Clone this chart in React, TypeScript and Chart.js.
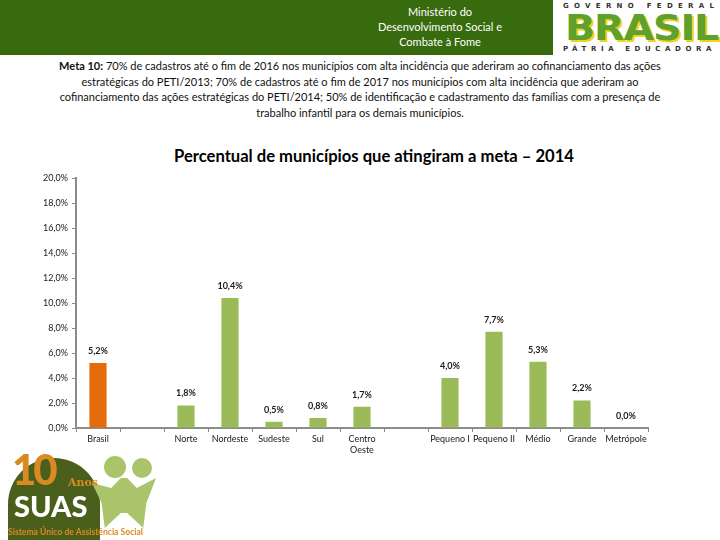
import React, { useEffect, useRef } from "react";
import { Chart, registerables } from "chart.js";
Chart.register(...registerables);

const categories: (string | string[])[] = [
  "Brasil", "", "Norte", "Nordeste", "Sudeste", "Sul", ["Centro", "Oeste"], "",
  "Pequeno I", "Pequeno II", "Médio", "Grande", "Metrópole",
];
const values: (number | null)[] = [5.2, null, 1.8, 10.4, 0.5, 0.8, 1.7, null, 4.0, 7.7, 5.3, 2.2, 0.0];
const highlightIndex = 0;
const yTickValues = [0, 2, 4, 6, 8, 10, 12, 14, 16, 18, 20];
const chartTitle = "Percentual de municípios que atingiram a meta – 2014";
const metaLines = [
  "70% de cadastros até o fim de 2016 nos municípios com alta incidência que aderiram ao cofinanciamento das ações",
  "estratégicas do PETI/2013; 70% de cadastros até o fim de 2017 nos municípios com alta incidência que aderiram ao",
  "cofinanciamento das ações estratégicas do PETI/2014; 50% de identificação e cadastramento das famílias com a presença de",
  "trabalho infantil para os demais municípios.",
];
const ministryLines = ["Ministério do", "Desenvolvimento Social e", "Combate à Fome"];

const ORANGE = "#E46C0A";
const GREEN = "#9BBB59";
const AXIS = "#8c8c8c";
const FONT = "Lato, 'Open Sans', sans-serif";

const fmt = (v: number) => v.toFixed(1).replace(".", ",") + "%";

const valueLabels = {
  id: "valueLabels",
  afterDatasetsDraw(chart: any) {
    const ctx = chart.ctx;
    const meta = chart.getDatasetMeta(0);
    ctx.save();
    ctx.font = `bold 9px ${FONT}`;
    ctx.fillStyle = "#1a1a1a";
    ctx.textAlign = "center";
    ctx.textBaseline = "middle";
    meta.data.forEach((el: any, i: number) => {
      const v = values[i];
      if (v === null || v === undefined) return;
      ctx.fillText(fmt(v), el.x, el.y - 12);
    });
    ctx.restore();
  },
};

function ChartCanvas() {
  const ref = useRef<HTMLCanvasElement>(null);
  useEffect(() => {
    if (!ref.current) return;
    const chart = new Chart(ref.current, {
      type: "bar",
      data: {
        labels: categories as any,
        datasets: [
          {
            data: values as any,
            backgroundColor: values.map((_, i) => (i === highlightIndex ? ORANGE : GREEN)),
            categoryPercentage: 1,
            barPercentage: 0.39,
          },
        ],
      },
      options: {
        animation: false,
        responsive: false,
        maintainAspectRatio: false,
        layout: { padding: { top: 178, right: 72, left: 0, bottom: 0 } },
        plugins: { legend: { display: false }, tooltip: { enabled: false }, title: { display: false } },
        scales: {
          x: {
            grid: { offset: true, drawOnChartArea: false, drawTicks: true, tickLength: 4, color: AXIS, lineWidth: 1 },
            border: { color: AXIS, width: 2 },
            ticks: { color: "#1a1a1a", font: { family: FONT, size: 9 }, padding: 2, maxRotation: 0, autoSkip: false },
            afterFit: (s: any) => { s.height = 112; },
          },
          y: {
            min: 0,
            max: 20,
            afterBuildTicks: (s: any) => { s.ticks = yTickValues.map((v) => ({ value: v })); },
            grid: { drawOnChartArea: false, drawTicks: true, tickLength: 4, color: AXIS },
            border: { color: AXIS, width: 2 },
            ticks: { color: "#1a1a1a", font: { family: FONT, size: 9 }, padding: 4, callback: (v: any) => fmt(Number(v)) },
            afterFit: (s: any) => { s.width = 76; },
          },
        },
      },
      plugins: [valueLabels],
    });
    return () => chart.destroy();
  }, []);
  return <canvas ref={ref} width={720} height={540} style={{ position: "absolute", left: 0, top: 0, width: 720, height: 540 }} />;
}

function SuasLogo() {
  return (
    <div style={{ position: "absolute", left: 4, top: 448, width: 150, height: 92, fontFamily: FONT }}>
      <div style={{ position: "absolute", left: 4, top: 10, width: 92, height: 92, borderRadius: "46px 46px 0 0", background: "#4b5f1c" }} />
      <div style={{ position: "absolute", left: 100, top: 8, width: 22, height: 22, borderRadius: 11, background: "#a9c46a" }} />
      <div style={{ position: "absolute", left: 128, top: 10, width: 20, height: 20, borderRadius: 10, background: "#a9c46a" }} />
      <div style={{ position: "absolute", left: 88, top: 30, width: 64, height: 50, background: "#a9c46a", clipPath: "polygon(0 10%,30% 20%,45% 0,55% 0,70% 20%,100% 0,85% 50%,80% 100%,55% 70%,45% 70%,20% 100%,15% 50%)" }} />
      <div style={{ position: "absolute", left: 8, top: 0, fontSize: 42, fontWeight: 900, color: "#d98a22", lineHeight: "42px", letterSpacing: -3 }}>10</div>
      <div style={{ position: "absolute", left: 64, top: 28, fontSize: 11, fontWeight: 700, color: "#d98a22", fontFamily: "'DejaVu Serif', serif" }}>Anos</div>
      <div style={{ position: "absolute", left: 10, top: 42, fontSize: 29, fontWeight: 900, color: "#ffffff", lineHeight: "32px" }}>SUAS</div>
      <div style={{ position: "absolute", left: 4, top: 79, fontSize: 8.6, fontWeight: 700, color: "#d98a22", whiteSpace: "nowrap" }}>Sistema Único de Assistência Social</div>
    </div>
  );
}

function BrasilLogo() {
  const spaced = { fontSize: 7, fontWeight: 700, color: "#333", letterSpacing: 5.3, whiteSpace: "nowrap" as const, fontFamily: "'DejaVu Sans', sans-serif" };
  return (
    <div style={{ position: "absolute", left: 553, top: 0, width: 167, height: 55, background: "#fff", overflow: "hidden" }}>
      <div style={{ position: "absolute", left: 10, top: 2, ...spaced }}>GOVERNO FEDERAL</div>
      <div style={{ position: "absolute", left: 12, top: 10, fontSize: 36, fontWeight: 900, color: "#5ea12e", fontFamily: "'DejaVu Sans', sans-serif", letterSpacing: -1, lineHeight: "36px", textShadow: "2px 2px 0 #f2d21b", transform: "scaleX(1.1)", transformOrigin: "left center" }}>BRASIL</div>
      <div style={{ position: "absolute", left: 10, top: 45, ...spaced, letterSpacing: 4.6 }}>PÁTRIA EDUCADORA</div>
    </div>
  );
}

export default function App() {
  return (
    <div style={{ position: "absolute", left: 0, top: 0, width: 720, height: 540, background: "#fff", overflow: "hidden", fontFamily: FONT }}>
      <div style={{ position: "absolute", left: 0, top: 0, width: 553, height: 55, background: "#386a0e" }} />
      <div style={{ position: "absolute", left: 340, top: 4, width: 200, textAlign: "center", color: "#fff", fontSize: 11, lineHeight: "15px" }}>
        {ministryLines.map((l, i) => <div key={i}>{l}</div>)}
      </div>
      <BrasilLogo />
      <div style={{ position: "absolute", left: 0, top: 58, width: 720, textAlign: "center", color: "#111", fontSize: 11, lineHeight: "15.5px", whiteSpace: "nowrap" }}>
        {metaLines.map((l, i) => (
          <div key={i}>{i === 0 ? <><b>Meta 10:</b> {l}</> : l}</div>
        ))}
      </div>
      <div style={{ position: "absolute", left: 0, top: 146, width: 748, textAlign: "center", color: "#000", fontSize: 16.6, fontWeight: 700, whiteSpace: "nowrap" }}>{chartTitle}</div>
      <ChartCanvas />
      <SuasLogo />
    </div>
  );
}
